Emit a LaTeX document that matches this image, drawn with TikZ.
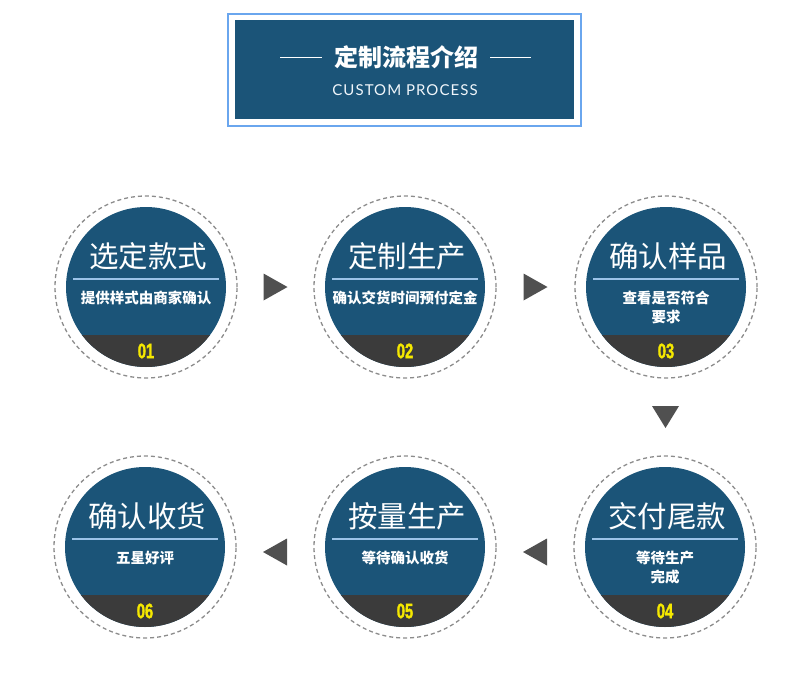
\documentclass[tikz,border=0pt]{standalone}
\usepackage{fontspec}
\usepackage{tikz}
\usetikzlibrary{calc}
\setmainfont{Noto Sans CJK SC}
\newfontfamily\numfont[FakeStretch=0.7, FakeBold=1.5]{Liberation Sans}
\newfontfamily\latinfont[LetterSpace=7]{Lato}
\definecolor{navyblue}{HTML}{1B5478}
\definecolor{bandgray}{HTML}{3B3B3B}
\definecolor{tipgray}{HTML}{505050}
\definecolor{ringgray}{HTML}{8C8C8C}
\definecolor{frameblue}{HTML}{6AA6EE}
\definecolor{lineblue}{HTML}{9CC3E8}
\definecolor{numyellow}{HTML}{F5E800}

\begin{document}
\begin{tikzpicture}[x=1pt, y=-1pt,
            ring/.style={circle, draw=ringgray, line width=1.3pt, dash pattern=on 4pt off 3pt, minimum size=182pt, inner sep=0pt},
            steptitle/.style={text=white, font=\fontsize{29.5}{31}\selectfont},
            stepnote/.style={text=white, font=\fontsize{14.5}{19}\selectfont\bfseries, align=center},
            stepnum/.style={text=numyellow, font=\numfont\bfseries\fontsize{21}{22}\selectfont},
            tip/.style={fill=tipgray}]
            \useasboundingbox (0,0) rectangle (790,691);
            % header
            \draw[frameblue, line width=1.6pt, fill=white] (228,14) rectangle (581,126);
            \fill[navyblue] (235,20) rectangle (574,119);
            \node[text=white, inner sep=0pt, font=\fontsize{24}{26}\selectfont\bfseries] (head) at (406,57) {定制流程介绍};
            \draw[white, line width=1pt] ($(head.west)+(-12,0)$) -- ++(-42,0) ($(head.east)+(12,0)$) -- ++(41,0);
            \node[text=white!85!lineblue, font=\latinfont\fontsize{15}{16}\selectfont] (headsub) at (405,90) {CUSTOM PROCESS};
            % steps
            \foreach \n/\x/\y/\title/\note/\dy in {
                1/146/287/选定款式/提供样式由商家确认/0,
                2/405/287/定制生产/确认交货时间预付定金/0,
                3/666/287/确认样品/{查看是否符合\\要求}/9.5,
                4/665/547/交付尾款/{等待生产\\完成}/9.5,
                5/405/547/按量生产/等待确认收货/0,
                6/145/547/确认收货/五星好评/0} {
                \node[ring] (s\n) at (\x,\y) {};
                \fill[navyblue] (s\n) circle (80);
                \begin{scope}
                    \clip (s\n) circle (80);
                    \fill[bandgray] ($(s\n)+(-80,48)$) rectangle ($(s\n)+(80,80)$);
                \end{scope}
                \draw[lineblue, line width=1.2pt] ($(s\n)+(-73,-8)$) -- ($(s\n)+(73,-8)$);
                \node[steptitle] (t\n) at ($(s\n)+(2,-31)$) {\title};
                \node[stepnote] (d\n) at ($(s\n)+(0,11+\dy)$) {\note};
                \node[stepnum] (n\n) at ($(s\n)+(0,64)$) {0\n};
            }
            % arrows
            \coordinate (a12) at ($(s1)!0.5!(s2)$);
            \coordinate (a23) at ($(s2)!0.5!(s3)$);
            \coordinate (a34) at ($(s3)!0.5!(s4)$);
            \coordinate (a45) at ($(s4)!0.5!(s5)+(0,5)$);
            \coordinate (a56) at ($(s5)!0.5!(s6)+(0,5)$);
            \fill[tip] ($(a12)+(12,0)$) -- ++(-24,-13.5) -- ++(0,27) -- cycle;
            \fill[tip] ($(a23)+(12,0)$) -- ++(-24,-13.5) -- ++(0,27) -- cycle;
            \fill[tip] ($(a34)+(0,11)$) -- ++(-13.5,-22) -- ++(27,0) -- cycle;
            \fill[tip] ($(a45)+(-12,0)$) -- ++(24,-13.5) -- ++(0,27) -- cycle;
            \fill[tip] ($(a56)+(-12,0)$) -- ++(24,-13.5) -- ++(0,27) -- cycle;
        \end{tikzpicture}
\end{document}
